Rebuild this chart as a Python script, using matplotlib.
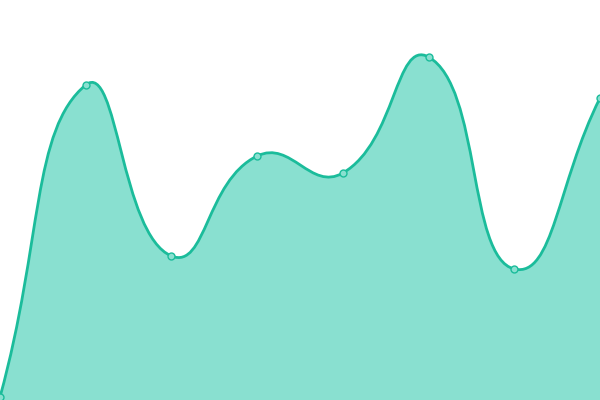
import numpy as np
import matplotlib
matplotlib.use("Agg")
import matplotlib.pyplot as plt
from matplotlib.path import Path
from matplotlib.patches import PathPatch

categories = ["A", "B", "C", "D", "E", "F", "G", "H"]
values = [3, 315, 144, 244, 227, 343, 131, 302]

LINE = "#1bbc9b"
FILL = "#89e0d0"
SMOOTH = 0.5

fig = plt.figure(figsize=(6, 4), dpi=100)
ax = fig.add_axes([0, 0, 1, 1])
ax.set_xlim(0, len(categories) - 1)
ax.set_ylim(0, 400)
ax.axis("off")

x = np.arange(len(categories), dtype=float)
y = np.array(values, dtype=float)
sx = 600 / (len(categories) - 1)  # data->pixel scale for distances
px, py = x * sx, y
n = len(px)

# control points around each point (prev/next clamped at the ends)
cin, cout = [], []
for i in range(n):
    a = max(i - 1, 0)
    b = min(i + 1, n - 1)
    vx = px[b] - px[a]
    vy = py[b] - py[a]
    l0 = np.hypot(px[i] - px[a], py[i] - py[a])
    l1 = np.hypot(px[b] - px[i], py[b] - py[i])
    r = l1 / (l0 + l1)
    cin.append((px[i] - vx * SMOOTH * (1 - r), py[i] - vy * SMOOTH * (1 - r)))
    cout.append((px[i] + vx * SMOOTH * r, py[i] + vy * SMOOTH * r))

verts = [(px[0], py[0])]
codes = [Path.MOVETO]
for i in range(1, n):
    verts += [cout[i - 1], cin[i], (px[i], py[i])]
    codes += [Path.CURVE4] * 3

line_verts = [(vx_ / sx, vy_) for vx_, vy_ in verts]
fill_verts = line_verts + [(x[-1], 0), (x[0], 0), line_verts[0]]
fill_codes = codes + [Path.LINETO, Path.LINETO, Path.CLOSEPOLY]

ax.add_patch(PathPatch(Path(fill_verts, fill_codes), facecolor=FILL, edgecolor="none", zorder=1))
ax.add_patch(PathPatch(Path(line_verts, codes), facecolor="none", edgecolor=LINE, lw=2.0, zorder=2, capstyle="round", joinstyle="round"))
ax.plot(x, y, "o", ms=5, mfc=FILL, mec=LINE, mew=1.0, zorder=3, clip_on=False)

fig.savefig("out.png", dpi=100)
